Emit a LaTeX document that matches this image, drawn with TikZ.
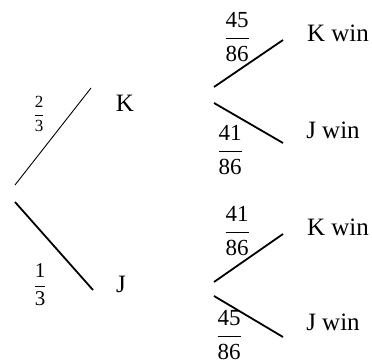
\documentclass[tikz,border=0pt]{standalone}
\usepackage{amsmath}
\usepackage{fontspec}
\setmainfont{Liberation Serif}
\usetikzlibrary{positioning}
\newcommand{\pfrac}[2]{\ensuremath{\dfrac{\text{#1}}{\text{#2}}}}

\begin{document}
\begin{tikzpicture}[x=1pt, y=-1pt,
                   lbl/.style={inner sep=0pt, font=\fontsize{25}{29}\selectfont},
                   prob/.style={inner sep=0pt, font=\fontsize{23}{27}\selectfont},
                   rootprob/.style={inner sep=0pt, font=\fontsize{21}{25}\selectfont},
                   smallprob/.style={inner sep=0pt, font=\fontsize{17}{20}\selectfont},
                   thinbranch/.style={line width=0.9pt},
                   branch/.style={line width=1.8pt}]
    \useasboundingbox (0,0) rectangle (372,363);
    % first stage
    \coordinate (rootU) at (15,185);
    \coordinate (rootL) at (15,202);
    \coordinate (toK)   at (91,88);
    \coordinate (toJ)   at (93,290);
    \node[lbl] (K) at (125,103) {K};
    \node[lbl] (J) at (121,284) {J};
    \node[smallprob] (pK) at (39,114) {\pfrac{2}{3}};
    \node[rootprob]  (pJ) at (40,285) {\pfrac{1}{3}};
    \draw[thinbranch] (rootU) -- (toK);
    \draw[branch]     (rootL) -- (toJ);
    % second stage after K
    \coordinate (kU)  at (214,87);
    \coordinate (kL)  at (214,103);
    \coordinate (kKw) at (283,40);
    \coordinate (kJw) at (283,143);
    \node[lbl] (KKwin) at (338,33)  {K win};
    \node[lbl] (KJwin) at (333,130) {J win};
    \node[prob] (pKK) at (237,37)  {\pfrac{45}{86}};
    \node[prob] (pKJ) at (230,150) {\pfrac{41}{86}};
    \draw[branch] (kU) -- (kKw);
    \draw[branch] (kL) -- (kJw);
    % second stage after J
    \coordinate (jU)  at (214,282);
    \coordinate (jL)  at (214,296);
    \coordinate (jKw) at (283,234);
    \coordinate (jJw) at (283,337);
    \node[lbl] (JKwin) at (338,227) {K win};
    \node[lbl] (JJwin) at (333,322) {J win};
    \node[prob] (pJK) at (237,231) {\pfrac{41}{86}};
    \node[prob] (pJJ) at (229,335) {\pfrac{45}{86}};
    \draw[branch] (jU) -- (jKw);
    \draw[branch] (jL) -- (jJw);
\end{tikzpicture}
\end{document}
